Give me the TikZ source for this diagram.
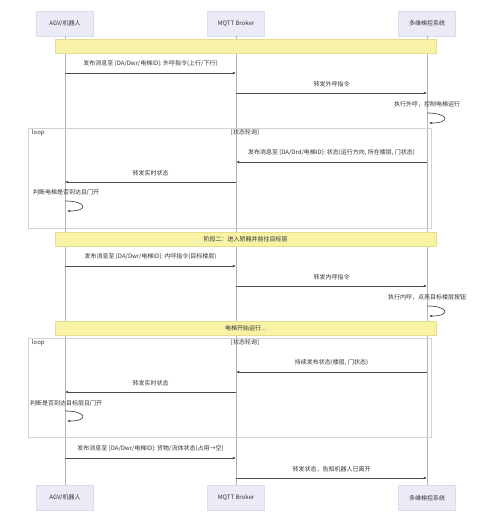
\documentclass[tikz,border=0pt]{standalone}
\usepackage{fontspec}
\setmainfont{Noto Sans CJK SC}
\usepackage{tikz}
\usetikzlibrary{positioning, arrows.meta, calc}
\definecolor{actorfill}{HTML}{EBEBF8}
\definecolor{actorline}{HTML}{DCDCEE}
\definecolor{notefill}{HTML}{F8F2A6}
\definecolor{noteline}{HTML}{E6DE8C}
\definecolor{lifec}{HTML}{B4B4B4}
\definecolor{loopc}{HTML}{D2D2D8}
\definecolor{msgc}{HTML}{4A4A4A}
\definecolor{textc}{HTML}{333333}

\begin{document}
\begin{tikzpicture}[x=1pt, y=-1pt,
  actor/.style={fill=actorfill, draw=actorline, minimum width=57pt, minimum height=25pt, font=\fontsize{6}{7}\selectfont, text=textc},
  life/.style={draw=lifec, line width=0.6pt},
  msg/.style={draw=msgc, line width=0.7pt, -{Latex[length=3.2pt,width=2.8pt]}},
  txt/.style={font=\fontsize{6}{7}\selectfont, text=textc, inner sep=1pt},
  lbl/.style={txt, above=5pt},
  note/.style={fill=notefill, draw=noteline, minimum width=381pt, minimum height=14pt, txt},
  loopbox/.style={draw=loopc, line width=0.5pt, minimum width=403pt}]

\fill[white] (0,0) rectangle (492,522);
\useasboundingbox (0,0) rectangle (492,522);

\node[actor] (agv) at (65,23.5) {AGV/机器人};
\node[actor] (broker) at (236,23.5) {MQTT Broker};
\node[actor] (lift) at (427,23.5) {多维梯控系统};
\node[actor] (agvB) at (65,498) {AGV/机器人};
\node[actor] (brokerB) at (236,498) {MQTT Broker};
\node[actor] (liftB) at (427,498) {多维梯控系统};
\draw[life] (agv) -- (agvB);
\draw[life] (broker) -- (brokerB);
\draw[life] (lift) -- (liftB);

\node[loopbox, minimum height=100pt] (poll1) at (229.5,178) {};
\node[txt, anchor=north west] (poll1tag) at ($(poll1.north west)+(3,1)$) {loop};
\node[txt] (poll1lbl) at (245,132.5) {[状态轮询]};
\node[loopbox, minimum height=99pt] (poll2) at (229.5,387.5) {};
\node[txt, anchor=north west] (poll2tag) at ($(poll2.north west)+(3,1)$) {loop};
\node[txt] (poll2lbl) at (245,342.5) {[状态轮询]};

\node[note] (phase1) at (245.5,46) {};
\node[note] (phase2) at (245.5,239) {阶段二：进入轿厢并前往目标层};
\node[note] (running) at (245.5,328) {电梯开始运行...};

\coordinate (r1) at (0,73);
\coordinate (r2) at (0,93);
\coordinate (s1) at (0,113);
\coordinate (r3) at (0,162);
\coordinate (r4) at (0,182);
\coordinate (s2) at (0,201);
\coordinate (r5) at (0,266);
\coordinate (r6) at (0,286);
\coordinate (s3) at (0,306);
\coordinate (r7) at (0,372);
\coordinate (r8) at (0,392);
\coordinate (s4) at (0,411);
\coordinate (r9) at (0,458);
\coordinate (r10) at (0,478);

\draw[msg] (agv |- r1) -- node[lbl] {发布消息至 [DA/Dwr/电梯ID]: 外呼指令(上行/下行)} (broker |- r1);
\draw[msg] (broker |- r2) -- node[lbl] {转发外呼指令} (lift |- r2);
\node[txt] (exec1) at (427,104) {执行外呼，控制电梯运行};
\draw[msg] (lift |- s1) .. controls +(22,0) and +(22,0) .. ($(lift |- s1)+(2,10)$);

\draw[msg] (lift |- r3) -- node[lbl] {发布消息至 [DA/Drd/电梯ID]: 状态(运行方向, 所在楼层, 门状态)} (broker |- r3);
\draw[msg] (broker |- r4) -- node[lbl] {转发实时状态} (agv |- r4);
\node[txt] (judge1) at (66,192) {判断电梯是否到达且门开};
\draw[msg] (agv |- s2) .. controls +(22,0) and +(22,0) .. ($(agv |- s2)+(2,10)$);

\draw[msg] (agv |- r5) -- node[lbl] {发布消息至 [DA/Dwr/电梯ID]: 内呼指令(目标楼层)} (broker |- r5);
\draw[msg] (broker |- r6) -- node[lbl] {转发内呼指令} (lift |- r6);
\node[txt] (exec2) at (427,297) {执行内呼，点亮目标楼层按钮};
\draw[msg] (lift |- s3) .. controls +(22,0) and +(22,0) .. ($(lift |- s3)+(2,10)$);

\draw[msg] (lift |- r7) -- node[lbl] {持续发布状态(楼层, 门状态)} (broker |- r7);
\draw[msg] (broker |- r8) -- node[lbl] {转发实时状态} (agv |- r8);
\node[txt] (judge2) at (66,403) {判断是否到达目标层且门开};
\draw[msg] (agv |- s4) .. controls +(22,0) and +(22,0) .. ($(agv |- s4)+(2,10)$);

\draw[msg] (agv |- r9) -- node[lbl] {发布消息至 [DA/Dwr/电梯ID]: 货物/流体状态(占用→空)} (broker |- r9);
\draw[msg] (broker |- r10) -- node[lbl] {转发状态，告知机器人已离开} (lift |- r10);
\end{tikzpicture}
\end{document}
